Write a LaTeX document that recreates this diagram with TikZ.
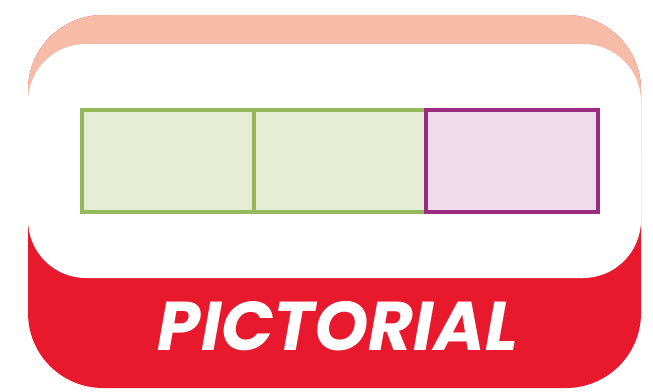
\documentclass[tikz,border=0pt]{standalone}
\usepackage{fontspec}
\newfontfamily\tagfont{Poppins}
\usepackage{tikz}
\usetikzlibrary{positioning}

\definecolor{tagRed}{HTML}{E8192C}
\definecolor{tagSalmon}{HTML}{F6BCA8}
\definecolor{barGreen}{HTML}{94B85A}
\definecolor{barGreenFill}{HTML}{E5EDD5}
\definecolor{barPurple}{HTML}{9A2B7F}
\definecolor{barPinkFill}{HTML}{F1DCEC}

\begin{document}
\begin{tikzpicture}[x=1pt, y=-1pt,
  part/.style={draw=barGreen, fill=barGreenFill, line width=3.5pt,
               minimum width=172pt, minimum height=102pt,
               inner sep=0pt, outer sep=0pt},
  partPink/.style={part, draw=barPurple, fill=barPinkFill},
]
\useasboundingbox (0,0) rectangle (653,391);

% card: salmon top, red bottom
\begin{scope}
  \clip[rounded corners=75pt] (28,15) rectangle (641,388);
  \fill[tagRed] (0,0) rectangle (653,391);
  \fill[tagSalmon] (0,0) rectangle (653,150);
\end{scope}
\fill[white, rounded corners=58pt] (28,44) rectangle (641,278);

% bar model
\node[part, anchor=north west] (g1) at (82,110) {};
\node[part, right=0pt of g1] (g2) {};
\node[partPink, right=0pt of g2] (p1) {};

\node[text=white, font=\tagfont\bfseries\itshape\fontsize{69}{72}\selectfont]
  (tag) at (338,326) {PICTORIAL};
\end{tikzpicture}
\end{document}
